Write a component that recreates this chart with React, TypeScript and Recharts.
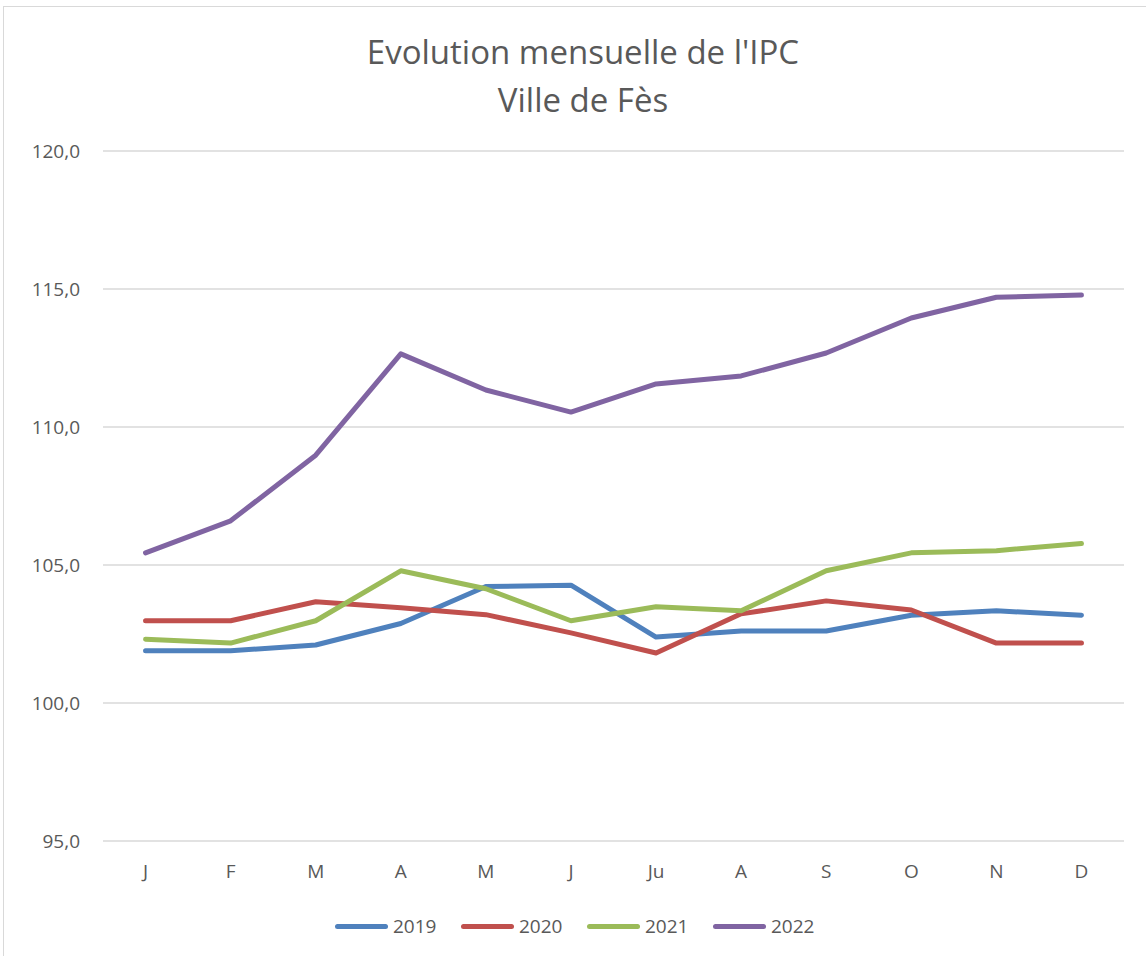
import { LineChart, Line, XAxis, YAxis, CartesianGrid, Legend } from "recharts";

const months = ["J", "F", "M", "A", "M", "J", "Ju", "A", "S", "O", "N", "D"];
const ipc2019 = [101.89, 101.89, 102.1, 102.88, 104.22, 104.27, 102.39, 102.61, 102.61, 103.18, 103.34, 103.18];
const ipc2020 = [102.98, 102.98, 103.67, 103.45, 103.2, 102.54, 101.81, 103.23, 103.7, 103.37, 102.17, 102.17];
const ipc2021 = [102.31, 102.17, 102.98, 104.79, 104.14, 102.98, 103.49, 103.34, 104.79, 105.44, 105.52, 105.78];
const ipc2022 = [105.44, 106.6, 108.98, 112.65, 111.34, 110.54, 111.56, 111.85, 112.68, 113.95, 114.7, 114.78];
const yTicks = [95, 100, 105, 110, 115, 120];
const xTicks = months.map((_, i) => i);

const series = [
  { key: "y2019", label: "2019", color: "#4f81bd" },
  { key: "y2020", label: "2020", color: "#c0504d" },
  { key: "y2021", label: "2021", color: "#9bbb59" },
  { key: "y2022", label: "2022", color: "#8064a2" },
];

const data = months.map((m, i) => ({
  idx: i,
  month: m,
  y2019: ipc2019[i],
  y2020: ipc2020[i],
  y2021: ipc2021[i],
  y2022: ipc2022[i],
}));

const FONT = "'Open Sans', Lato, sans-serif";
const TEXT = "#595959";

function LegendContent() {
  return (
    <div style={{ display: "flex", justifyContent: "flex-start", paddingLeft: 335 }}>
      {series.map((s) => (
        <div key={s.key} style={{ display: "flex", alignItems: "center", width: 126 }}>
          <div style={{ width: 53, height: 5, borderRadius: 3, background: s.color, marginRight: 5 }} />
          <span style={{ fontSize: 19, color: TEXT, fontFamily: FONT }}>{s.label}</span>
        </div>
      ))}
    </div>
  );
}

export default function App() {
  return (
    <div style={{ position: "absolute", left: 0, top: 0, width: 1146, height: 956, background: "#fff", overflow: "hidden" }}>
      <div
        style={{
          position: "absolute",
          left: 3,
          top: 6,
          width: 1160,
          height: 980,
          border: "1px solid #d9d9d9",
        }}
      />
      <div
        style={{
          position: "absolute",
          left: 0,
          width: 1166,
          top: 28,
          textAlign: "center",
          fontFamily: FONT,
          fontSize: 33,
          color: TEXT,
          lineHeight: "48px",
        }}
      >
        Evolution mensuelle de l'IPC
        <br />
        Ville de Fès
      </div>
      <div style={{ position: "absolute", left: 0, top: 0 }}>
        <LineChart width={1146} height={956} data={data} margin={{ top: 151, right: 22, left: 0, bottom: 41 }}>
          <CartesianGrid stroke="#d9d9d9" strokeWidth={1.5} vertical={false} />
          <XAxis
            dataKey="idx"
            type="number"
            domain={[-0.5, 11.5]}
            ticks={xTicks}
            tickFormatter={(i) => months[i]}
            tickLine={false}
            axisLine={false}
            tick={{ fill: TEXT, fontSize: 19, fontFamily: FONT }}
            tickMargin={18}
            height={48}
            interval={0}
          />
          <YAxis
            domain={[95, 120]}
            ticks={yTicks}
            tickFormatter={(v) => v.toFixed(1).replace(".", ",")}
            tickLine={false}
            axisLine={false}
            tick={{ fill: TEXT, fontSize: 19, fontFamily: FONT }}
            tickMargin={17}
            width={103}
          />
          <Legend verticalAlign="bottom" content={<LegendContent />} wrapperStyle={{ bottom: 17 }} />
          {series.map((s) => (
            <Line
              key={s.key}
              type="linear"
              dataKey={s.key}
              name={s.label}
              stroke={s.color}
              strokeWidth={5}
              strokeLinecap="round"
              strokeLinejoin="round"
              dot={false}
              isAnimationActive={false}
            />
          ))}
        </LineChart>
      </div>
    </div>
  );
}
